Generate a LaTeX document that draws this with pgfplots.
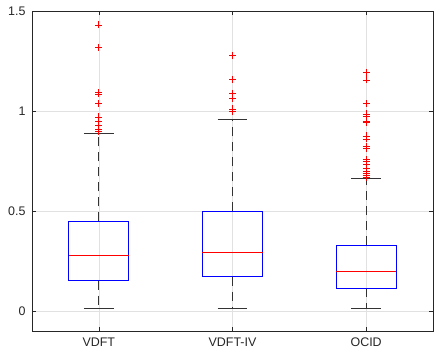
\documentclass[border=0pt]{standalone}
\usepackage{fontspec}
\setmainfont{Liberation Sans}
\usepackage{pgfplots}
\pgfplotsset{compat=1.18}
\definecolor{axgray}{RGB}{38,38,38}
\definecolor{gridgray}{RGB}{225,225,225}
\begin{document}
\begin{tikzpicture}
\begin{axis}[
 scale only axis, width=401bp, height=320bp,
 xmin=0.5, xmax=3.5, ymin=-0.1, ymax=1.5,
 xtick={1,2,3}, xticklabels={VDFT,VDFT-IV,OCID},
 ytick={0,0.5,1,1.5}, yticklabels={0,0.5,1,1.5},
 tick align=inside, major tick length=4bp,
 xmajorgrids, ymajorgrids, grid style={gridgray, line width=0.6bp},
 axis line style={axgray, line width=0.6bp},
 tick style={axgray, line width=0.6bp},
 ticklabel style={font=\fontsize{12.5}{14}\selectfont, text=axgray},
 yticklabel style={xshift=-3bp},
 xticklabel style={yshift=-3bp},
 /pgf/number format/assume math mode=true,
 whisk/.style={black!80, line width=1.3bp, dash pattern=on 9bp off 6bp, no marks},
 cap/.style={black!80, line width=1bp, no marks},
 bx/.style={blue, line width=1bp, no marks},
 med/.style={red, line width=1bp, no marks},
 outl/.style={only marks, mark=+, mark size=3.5bp, mark options={red, solid, line width=0.8bp}},
]
% ---------- VDFT ----------
\addplot[whisk] coordinates {(1,0.448) (1,0.887)};
\addplot[whisk] coordinates {(1,0.152) (1,0.012)};
\addplot[cap] coordinates {(0.889,0.012) (1.111,0.012)};
\addplot[cap] coordinates {(0.889,0.887) (1.111,0.887)};
\addplot[bx] coordinates {(0.775,0.152) (1.225,0.152) (1.225,0.448) (0.775,0.448)} --cycle;
\addplot[med] coordinates {(0.775,0.28) (1.225,0.28)};
\addplot[outl] coordinates {(1,1.43) (1,1.318) (1,1.092) (1,1.085) (1,1.037) (1,0.97) (1,0.95) (1,0.928) (1,0.908) (1,0.897)};
% ---------- VDFT-IV ----------
\addplot[whisk] coordinates {(2,0.498) (2,0.958)};
\addplot[whisk] coordinates {(2,0.172) (2,0.013)};
\addplot[cap] coordinates {(1.889,0.013) (2.111,0.013)};
\addplot[cap] coordinates {(1.889,0.958) (2.111,0.958)};
\addplot[bx] coordinates {(1.775,0.172) (2.225,0.172) (2.225,0.498) (1.775,0.498)} --cycle;
\addplot[med] coordinates {(1.775,0.295) (2.225,0.295)};
\addplot[outl] coordinates {(2,1.277) (2,1.157) (2,1.088) (2,1.063) (2,1.01) (2,0.997)};
% ---------- OCID ----------
\addplot[whisk] coordinates {(3,0.33) (3,0.66)};
\addplot[whisk] coordinates {(3,0.113) (3,0.013)};
\addplot[cap] coordinates {(2.889,0.013) (3.111,0.013)};
\addplot[cap] coordinates {(2.889,0.66) (3.111,0.66)};
\addplot[bx] coordinates {(2.775,0.113) (3.225,0.113) (3.225,0.33) (2.775,0.33)} --cycle;
\addplot[med] coordinates {(2.775,0.198) (3.225,0.198)};
\addplot[outl] coordinates {(3,1.193) (3,1.155) (3,1.037) (3,0.985) (3,0.972) (3,0.95) (3,0.942) (3,0.875) (3,0.86) (3,0.822) (3,0.813) (3,0.758) (3,0.747) (3,0.735) (3,0.713) (3,0.70) (3,0.688) (3,0.677) (3,0.668)};
\end{axis}
\useasboundingbox (-32bp,-23bp) rectangle (402bp,331bp);
\end{tikzpicture}
\end{document}
